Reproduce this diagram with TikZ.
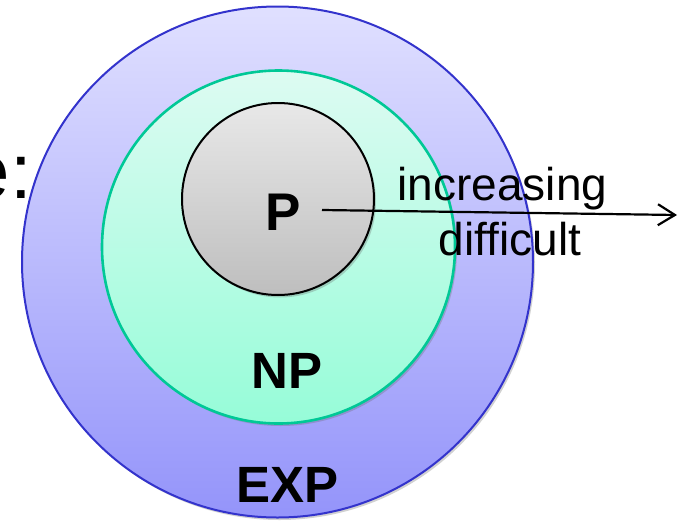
\documentclass[tikz,border=0pt]{standalone}
\usepackage{fontspec}
\setmainfont{Liberation Sans}
\usetikzlibrary{shadows,arrows.meta}
\definecolor{expline}{HTML}{3333CC}
\definecolor{exptop}{HTML}{E0E0FF}
\definecolor{expbot}{HTML}{9494FA}
\definecolor{npline}{HTML}{00C896}
\definecolor{nptop}{HTML}{DDFBF2}
\definecolor{npbot}{HTML}{96FCD8}
\definecolor{ptop}{HTML}{E8E8E8}
\definecolor{pbot}{HTML}{BEBEBE}
\begin{document}
\begin{tikzpicture}[x=1pt,y=-1pt,
  ring/.style={circle,inner sep=0pt,
    drop shadow={opacity=0.3,shadow xshift=2pt,shadow yshift=-2.5pt,fill=black!60}},
  biglab/.style={font=\fontsize{51}{60}\selectfont\bfseries,inner sep=0pt,anchor=base},
  smalllab/.style={font=\fontsize{46}{55}\selectfont,inner sep=0pt,anchor=base},
  arr/.style={line width=2.2pt,-{Straight Barb[length=17pt,width=21pt]}}]
\useasboundingbox (0,0) rectangle (678,520);
\clip (0,0) rectangle (678,520);
\node[ring,minimum size=511pt,draw=expline,line width=2pt,top color=exptop,bottom color=expbot] (exp) at (277.5,262) {};
\node[ring,minimum size=353pt,draw=npline,line width=2.6pt,top color=nptop,bottom color=npbot] (np) at (278.5,247) {};
\node[ring,minimum size=192pt,draw=black,line width=2pt,top color=ptop,bottom color=pbot] (p) at (278,199) {};
\node[biglab,font=\fontsize{53}{60}\selectfont\bfseries] (plab) at (283,230) {P};
\node[biglab] (nplab) at (287,388) {NP};
\node[biglab] (explab) at (287.5,502) {EXP};
\node[font=\fontsize{78}{90}\selectfont,inner sep=0pt,anchor=base east] (edge) at (32,198) {e:};
\node[smalllab] (inc) at (502.5,200) {increasing};
\node[smalllab] (dif) at (510,255) {difficult};
\coordinate (s) at (322,210);
\coordinate (t) at (677,215);
\draw[arr] (s) -- (t);
\end{tikzpicture}
\end{document}
